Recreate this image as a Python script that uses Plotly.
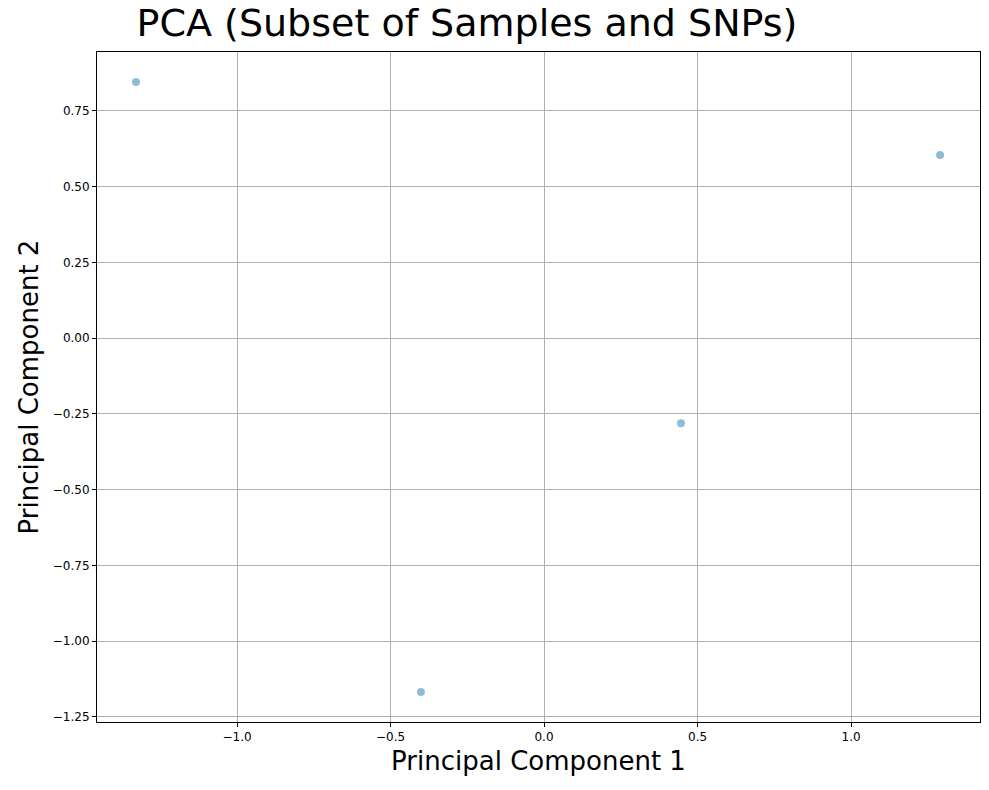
import plotly.graph_objects as go

pc1 = [-1.329, 1.290, 0.446, -0.401]
pc2 = [0.845, 0.604, -0.281, -1.168]
xticks = [-1.0, -0.5, 0.0, 0.5, 1.0]
yticks = [0.75, 0.50, 0.25, 0.00, -0.25, -0.50, -0.75, -1.00, -1.25]

fig = go.Figure(go.Scatter(x=pc1, y=pc2, mode="markers",
    marker=dict(size=8, color="rgba(31,119,180,0.5)", line=dict(width=0))))

axis_common = dict(showgrid=True, gridcolor="#b0b0b0", gridwidth=1, zeroline=False,
    showline=True, linecolor="black", mirror=True, ticks="outside", ticklen=4,
    tickcolor="black", tickfont=dict(size=12, color="black"))
fig.update_layout(
    width=981, height=782, plot_bgcolor="white", paper_bgcolor="white",
    font=dict(family="DejaVu Sans", color="black"),
    margin=dict(l=89, r=9, t=44, b=68),
    title=dict(text="PCA (Subset of Samples and SNPs)", x=(467 - 8) / 981, xanchor="center",
               yref="container", y=0.998, yanchor="top", font=dict(size=38)),
    xaxis=dict(range=[-1.456, 1.420], tickvals=xticks,
               ticktext=[f"{v:.1f}".replace("-", "−") for v in xticks],
               title=dict(text="Principal Component 1", font=dict(size=26), standoff=8), **axis_common),
    yaxis=dict(range=[-1.267, 0.944], tickvals=yticks,
               ticktext=[f"{v:.2f}".replace("-", "−") for v in yticks],
               title=dict(text="Principal Component 2", font=dict(size=26), standoff=6), **axis_common),
    showlegend=False,
)
fig.write_html("out.html")
